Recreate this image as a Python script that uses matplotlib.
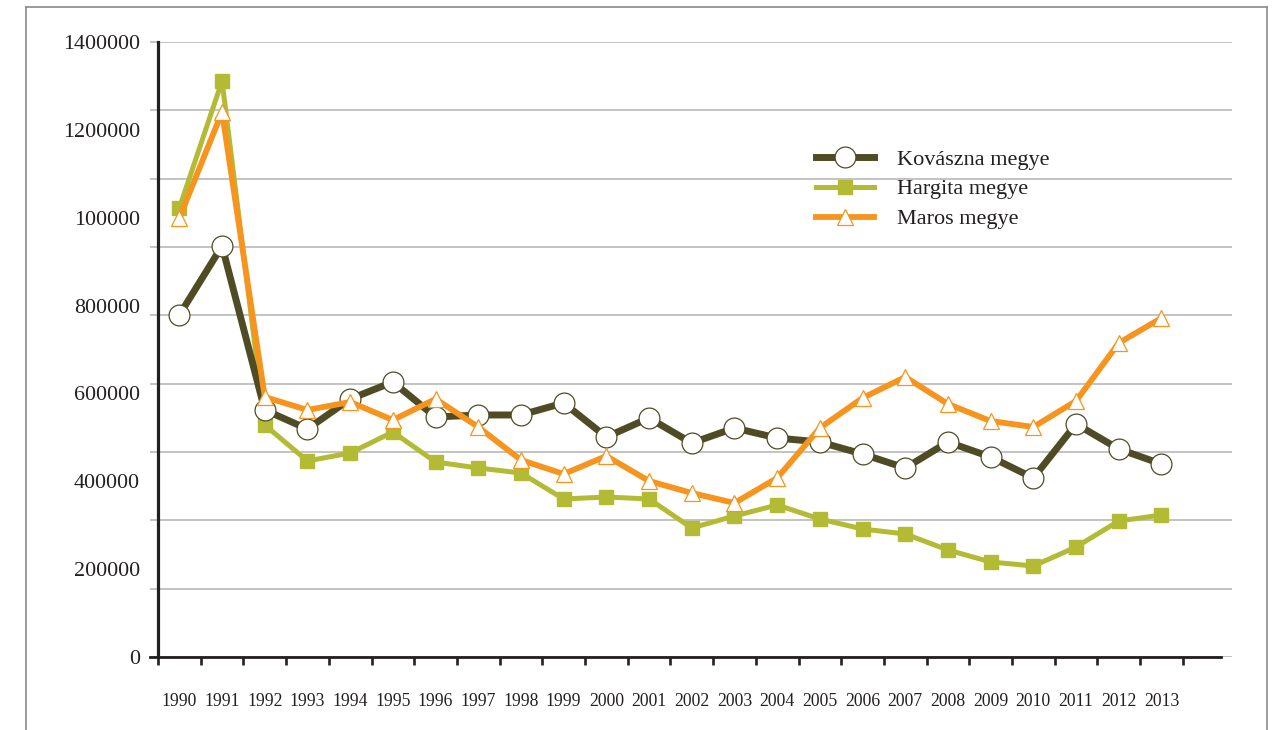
import matplotlib
matplotlib.use("Agg")
import matplotlib.pyplot as plt
from matplotlib.lines import Line2D
from matplotlib.ticker import FixedLocator, FixedFormatter, NullFormatter
import numpy as np

years = [str(y) for y in range(1990, 2014)]
kovaszna = [778500, 935600, 562300, 519000, 587300, 626000, 546300, 550900, 551000, 578200,
            500800, 544100, 487100, 521300, 498500, 489400, 462100, 430200, 489400, 455300,
            407500, 530400, 473500, 439300]
hargita = [1022100, 1311200, 528100, 446200, 464400, 512200, 443900, 430200, 418900, 359700,
           364200, 359700, 293700, 321000, 346000, 314100, 291400, 280000, 243600, 216300,
           207200, 250400, 309600, 323200]
maros = [999300, 1240600, 591900, 562300, 580500, 539500, 587300, 523600, 448400, 416600,
         457500, 400600, 373300, 350600, 407500, 521300, 589600, 637400, 575900, 537200,
         523600, 582800, 714800, 771700]
series_names = ["Kovászna megye", "Hargita megye", "Maros megye"]
ytick_values = [0, 200000, 400000, 600000, 800000, 1000000, 1200000, 1400000]
ytick_labels = ["0", "200000", "400000", "600000", "800000", "100000", "1200000", "1400000"]

plt.rcParams['font.family'] = ['Liberation Serif', 'DejaVu Serif']

W, H = 1272, 730
fig = plt.figure(figsize=(W / 100, H / 100), dpi=100)
ax = fig.add_axes([158 / W, (H - 657) / H, (1232 - 158) / W, (657 - 42) / H])

c_kov = "#4f4c25"
c_har = "#b3bb34"
c_mar = "#f7941d"

x = np.arange(len(years)) + 0.5
ax.plot(x, hargita, color=c_har, lw=3.6, marker='s', ms=9.5, mfc=c_har, mec=c_har,
        zorder=3, label=series_names[1])
ax.plot(x, kovaszna, color=c_kov, lw=5.0, marker='o', ms=15, mfc='white', mec=c_kov,
        mew=0.9, zorder=4, label=series_names[0])
ax.plot(x, maros, color=c_mar, lw=4.2, marker='^', ms=12, mfc='white', mec=c_mar,
        mew=0.9, zorder=5, label=series_names[2])

ax.set_xlim(0, (1232 - 158) / 42.7)
ax.set_ylim(0, 1400000)

# spines
for s in ['top', 'right']:
    ax.spines[s].set_visible(False)
ax.spines['left'].set_color('#231f20')
ax.spines['left'].set_linewidth(2.3)
ax.spines['bottom'].set_color('#231f20')
ax.spines['bottom'].set_linewidth(2.0)
ax.spines['bottom'].set_bounds(-8 / 42.7, (1221 - 158) / 42.7)
ax.spines['bottom'].set_zorder(6)

# x ticks
ax.xaxis.set_major_locator(FixedLocator(np.arange(0, len(years) + 1)))
ax.xaxis.set_major_formatter(NullFormatter())
ax.xaxis.set_minor_locator(FixedLocator(x))
ax.xaxis.set_minor_formatter(FixedFormatter(years))
ax.tick_params(axis='x', which='major', direction='out', length=6, width=1.9, color='#231f20')
ax.tick_params(axis='x', which='minor', length=0, pad=26, labelsize=12.7, labelcolor='#231f20')

# y ticks / grid
ax.yaxis.remove_overlapping_locs = False
ax.yaxis.set_major_locator(FixedLocator(np.linspace(0, 1400000, 10)))
ax.yaxis.set_major_formatter(NullFormatter())
ax.yaxis.set_minor_locator(FixedLocator(ytick_values))
ax.yaxis.set_minor_formatter(FixedFormatter(ytick_labels))
ax.tick_params(axis='y', which='major', direction='out', length=6, width=1.1, color='#b3b3b3')
ax.tick_params(axis='y', which='minor', length=0, pad=13, labelsize=15.8, labelcolor='#231f20')
ax.grid(axis='y', which='major', color='#b3b3b3', lw=1.1)
ax.set_axisbelow(True)

# legend
h, l = ax.get_legend_handles_labels()
order = [1, 0, 2]
leg = ax.legend([h[i] for i in order], [l[i] for i in order], loc='upper left',
                bbox_to_anchor=(796 / W, 1 - 129 / H), bbox_transform=fig.transFigure,
                frameon=False, fontsize=16, handlelength=2.6, handletextpad=1.05,
                labelspacing=0.42)
for t in leg.get_texts():
    t.set_color('#231f20')

# page border
bc = '#8a8a8a'
fig.add_artist(Line2D([26 / W, 26 / W], [0, 1 - 7 / H], color=bc, lw=1.2, transform=fig.transFigure))
fig.add_artist(Line2D([26 / W, 1267 / W], [1 - 7 / H, 1 - 7 / H], color=bc, lw=1.2, transform=fig.transFigure))
fig.add_artist(Line2D([1267 / W, 1267 / W], [0, 1 - 7 / H], color=bc, lw=1.2, transform=fig.transFigure))

fig.savefig("out.png", dpi=100)
